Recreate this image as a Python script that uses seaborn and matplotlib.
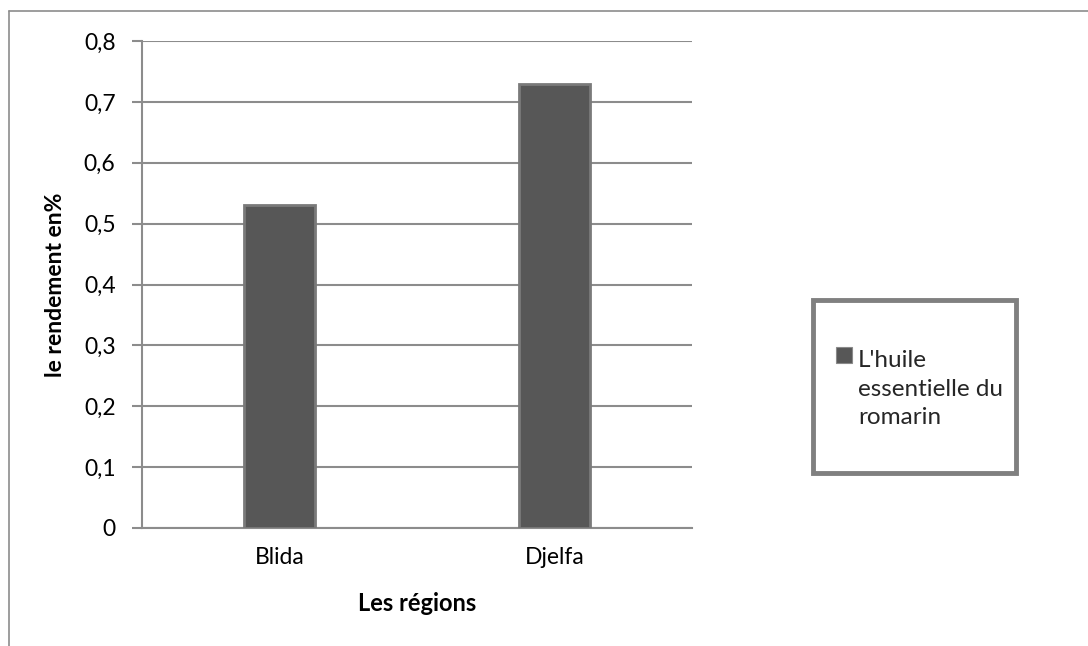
import matplotlib
matplotlib.use("Agg")
import matplotlib.pyplot as plt
import seaborn as sns
import pandas as pd
from matplotlib.patches import Rectangle, Patch
from matplotlib.lines import Line2D
from matplotlib.legend_handler import HandlerPatch

# Data
regions = ["Blida", "Djelfa"]
rendement = [0.53, 0.73]
series_name = "L'huile\nessentielle du\nromarin"
y_ticks = [0, 0.1, 0.2, 0.3, 0.4, 0.5, 0.6, 0.7, 0.8]
y_tick_labels = ["0", "0,1", "0,2", "0,3", "0,4", "0,5", "0,6", "0,7", "0,8"]

sns.set_theme(style="white")
plt.rcParams["font.family"] = ["Lato", "DejaVu Sans"]

df = pd.DataFrame({"region": regions, "rendement": rendement})

fig = plt.figure(figsize=(10.88, 6.46), dpi=100)
ax = fig.add_axes([142 / 1088, 1 - 528 / 646, 550 / 1088, 487 / 646])

sns.barplot(data=df, x="region", y="rendement", color="#575757",
            width=0.255, saturation=1, ax=ax, zorder=3,
            edgecolor="#7a7a7a", linewidth=2)

ax.set_ylim(0, 0.8)
ax.set_xlim(-0.5, 1.5)
ax.set_yticks(y_ticks)
ax.set_yticklabels(y_tick_labels)
ax.yaxis.grid(True, color="#8c8c8c", linewidth=1.5, zorder=0)
ax.xaxis.grid(False)

for side in ("top", "right"):
    ax.spines[side].set_visible(False)
for side in ("left", "bottom"):
    ax.spines[side].set_color("#8c8c8c")
    ax.spines[side].set_linewidth(1.5)

ax.tick_params(axis="y", which="major", length=7, width=1.5, color="#8c8c8c",
               labelsize=16.5, pad=12, left=True, direction="out")
ax.tick_params(axis="x", length=0, labelsize=16.5, pad=14)
for lbl in ax.get_xticklabels() + ax.get_yticklabels():
    lbl.set_color("#000000")

ax.set_xlabel("Les régions", fontsize=17, fontweight="bold", labelpad=17, color="black")
ax.set_ylabel("le rendement en%", fontsize=16.5, fontweight="bold", color="black")
ax.yaxis.set_label_coords(-0.138, 0.5)

# Legend with its frame
frame = Rectangle((813 / 1088, 1 - 473 / 646), 203 / 1088, 173 / 646,
                  transform=fig.transFigure, facecolor="white",
                  edgecolor="#808080", linewidth=3.5, zorder=1)
fig.patches.append(frame)


def top_aligned_square(legend, orig_handle, xdescent, ydescent, width, height, fontsize):
    # keep the swatch next to the first line of the wrapped label
    return Rectangle((-xdescent, -ydescent + fontsize * 1.4), width, height)


handle = Patch(facecolor="#575757", edgecolor="#8a8a8a", linewidth=0.8)
fig.legend([handle], [series_name], loc="upper left",
           bbox_to_anchor=(814 / 1088, 1 - 328 / 646), frameon=False,
           fontsize=17.5, handlelength=0.65, handleheight=0.65, handletextpad=0.25,
           labelspacing=0.2,
           handler_map={Patch: HandlerPatch(patch_func=top_aligned_square)})
plt.setp(fig.legends[0].get_texts(), linespacing=1.45)

# Outer chart border (left and top edges)
fig.add_artist(Line2D([9 / 1088, 9 / 1088], [0, 1 - 11 / 646],
                      transform=fig.transFigure, color="#8c8c8c", linewidth=1.2))
fig.add_artist(Line2D([9 / 1088, 1], [1 - 11 / 646, 1 - 11 / 646],
                      transform=fig.transFigure, color="#8c8c8c", linewidth=1.2))

fig.savefig("out.png", dpi=100)
